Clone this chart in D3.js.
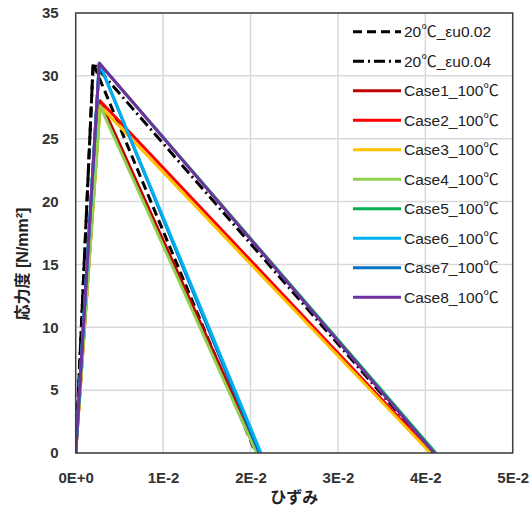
<!DOCTYPE html>
<html><head><meta charset="utf-8">
<script src="https://cdn.jsdelivr.net/npm/d3@7"></script>
<style>
body{margin:0;background:#fff;}
svg text{font-family:"Liberation Sans","Noto Sans CJK JP",sans-serif;}
</style></head>
<body><svg id="c" width="532" height="513"></svg>
<script>
const seriesNames = ["20℃_εu0.02","20℃_εu0.04","Case1_100℃","Case2_100℃","Case3_100℃","Case4_100℃","Case5_100℃","Case6_100℃","Case7_100℃","Case8_100℃"];
const seriesColors = ["#000000","#000000","#C00000","#FF0000","#FFC000","#92D050","#00B050","#00B0F0","#0070C0","#7030A0"];
const seriesDash = ["9,5","11,4,2,4",null,null,null,null,null,null,null,null];
// strain values (x) and stress values (y) for each series: origin, peak, end
const strainVals = [
  [0,0.0020,0.0206],
  [0,0.0020,0.0409],
  [0,0.0028,0.0210],
  [0,0.0028,0.0408],
  [0,0.0028,0.0406],
  [0,0.0028,0.0207],
  [0,0.0027,0.0412],
  [0,0.0027,0.0212],
  [0,0.0027,0.0210],
  [0,0.0027,0.0410]
];
const stressVals = [
  [0,31.0,0],
  [0,31.0,0],
  [0,28.0,0],
  [0,28.0,0],
  [0,27.6,0],
  [0,27.6,0],
  [0,31.0,0],
  [0,31.0,0],
  [0,31.0,0],
  [0,31.0,0]
];
const drawOrder = [0,1,2,3,4,5,6,8,7,9];
const xTicks = [0,0.01,0.02,0.03,0.04,0.05];
const xTickLabels = ["0E+0","1E-2","2E-2","3E-2","4E-2","5E-2"];
const yTicks = [0,5,10,15,20,25,30,35];

const svg = d3.select("#c");
const L=75.7,R=512.7,T=13,B=453;
const x = d3.scaleLinear().domain([0,0.05]).range([L,R]);
const y = d3.scaleLinear().domain([0,35]).range([B,T]);

// grid
svg.append("g").selectAll("line").data(xTicks).join("line")
  .attr("x1",d=>x(d)).attr("x2",d=>x(d)).attr("y1",T).attr("y2",B)
  .attr("stroke","#d9d9d9").attr("stroke-width",1.5);
svg.append("g").selectAll("line").data(yTicks).join("line")
  .attr("x1",L).attr("x2",R).attr("y1",d=>y(d)).attr("y2",d=>y(d))
  .attr("stroke","#d9d9d9").attr("stroke-width",1.5);

// axes
const xAxis = d3.axisBottom(x).tickValues(xTicks).tickFormat((d,i)=>xTickLabels[i]).tickSize(0).tickPadding(19);
const gx = svg.append("g").attr("transform",`translate(0,${B})`).call(xAxis);
gx.select(".domain").remove();
gx.selectAll("text").attr("font-size",15).attr("font-weight","bold").attr("fill","#333").style("font-family","Liberation Sans, sans-serif");
const yAxis = d3.axisLeft(y).tickValues(yTicks).tickSize(0).tickPadding(17);
const gy = svg.append("g").attr("transform",`translate(${L},0)`).call(yAxis);
gy.select(".domain").remove();
gy.selectAll("text").attr("font-size",15).attr("font-weight","bold").attr("fill","#333").style("font-family","Liberation Sans, sans-serif");

// clip
svg.append("clipPath").attr("id","clip").append("rect").attr("x",L).attr("y",T-5).attr("width",R-L).attr("height",B-T+5);

const line = d3.line().x(d=>x(d[0])).y(d=>y(d[1]));
const gL = svg.append("g").attr("clip-path","url(#clip)");
drawOrder.forEach(i=>{
  const pts = strainVals[i].map((s,j)=>[s,stressVals[i][j]]);
  gL.append("path").datum(pts).attr("d",line)
    .attr("fill","none").attr("stroke",seriesColors[i])
    .attr("stroke-width",3).attr("stroke-linejoin","round")
    .attr("stroke-dasharray",seriesDash[i]);
});

// border
svg.append("rect").attr("x",L).attr("y",T).attr("width",R-L).attr("height",B-T)
  .attr("fill","none").attr("stroke","#404040").attr("stroke-width",1.5);

// legend
const lg = svg.append("g");
seriesNames.forEach((n,i)=>{
  const yy = 31.7 + i*29.5;
  lg.append("line").attr("x1",353).attr("x2",401).attr("y1",yy).attr("y2",yy)
    .attr("stroke",seriesColors[i]).attr("stroke-width",3).attr("stroke-dasharray",seriesDash[i]);
  lg.append("text").attr("x",404).attr("y",yy).attr("dy","0.36em").attr("font-size",15.5)
    .attr("fill","#222").text(n);
});

// axis titles
svg.append("text").attr("x",(L+R)/2).attr("y",503).attr("text-anchor","middle")
  .attr("font-size",16).attr("font-weight","bold").attr("fill","#222").text("ひずみ");
svg.append("text").attr("transform","translate(28,264) rotate(-90)").attr("text-anchor","middle")
  .attr("font-size",16).attr("font-weight","bold").attr("fill","#222")
  .text("応力度 [N/mm²]");
</script></body></html>
